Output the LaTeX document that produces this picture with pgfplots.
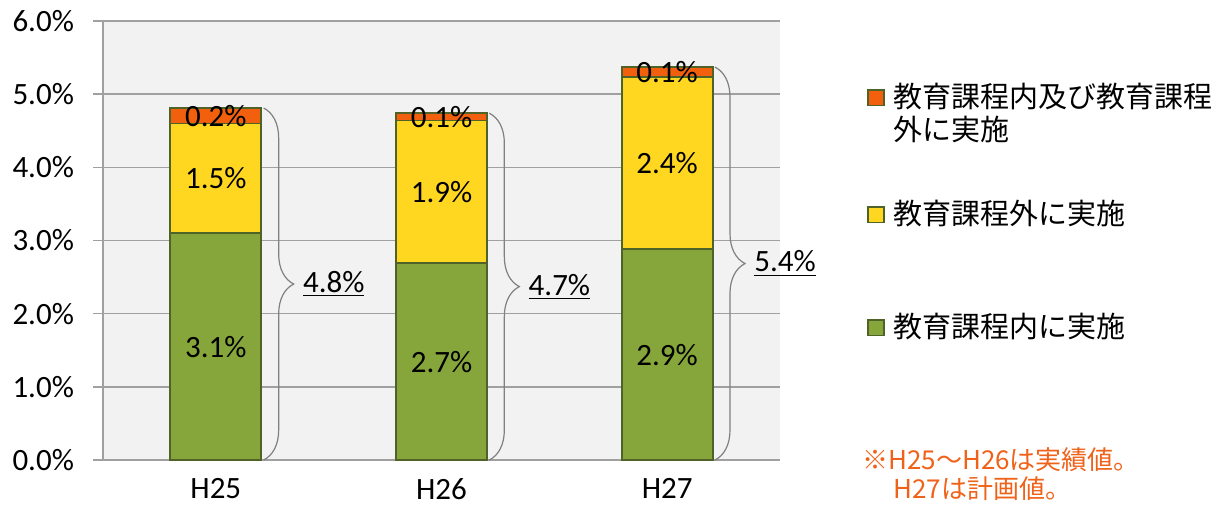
\documentclass[border=0pt]{standalone}
\usepackage{pgfplots}
\pgfplotsset{compat=1.18}
\usepackage{pgfplotstable}
\usetikzlibrary{decorations.pathreplacing}
\usepackage{fontspec}
\setmainfont{Carlito}
\newfontfamily\jp{Noto Sans CJK JP}
\definecolor{cgreen}{RGB}{134,165,58}
\definecolor{cyellow}{RGB}{255,214,32}
\definecolor{corange}{RGB}{242,96,14}
\definecolor{cborder}{RGB}{79,98,40}
\definecolor{cbg}{RGB}{242,242,242}
\definecolor{cgrid}{RGB}{160,160,160}
\definecolor{cnote}{RGB}{240,98,25}

\pgfplotstableread{
x y lbl
0 3.10 3.1
1 2.69 2.7
2 2.88 2.9
}\tgreen
\pgfplotstableread{
x y lbl
0 1.50 1.5
1 1.95 1.9
2 2.35 2.4
}\tyellow
\pgfplotstableread{
x y lbl
0 0.21 0.2
1 0.10 0.1
2 0.14 0.1
}\torange

\begin{document}
\begin{tikzpicture}
\useasboundingbox (0,0) rectangle (611.5pt,255.5pt);
\begin{axis}[
  at={(51.5pt,25.5pt)}, anchor=south west,
  scale only axis, width=338.5pt, height=219.5pt,
  ybar stacked, bar width=45.5pt,
  xmin=-0.5, xmax=2.5, ymin=0, ymax=6,
  axis background/.style={fill=cbg},
  axis lines*=left,
  axis line style={cgrid, line width=0.8pt},
  ytick={0,1,2,3,4,5,6},
  ymajorgrids, grid style={cgrid, line width=0.8pt},
  tick align=outside,
  major tick length=5pt,
  y tick style={cgrid, line width=0.8pt},
  x tick style={draw=none},
  xtick={0,1,2}, xticklabels={H25,H26,H27},
  extra x ticks={-0.5,0.5,1.5,2.5},
  extra x tick labels={},
  extra x tick style={grid=none, tick style={draw=cgrid, line width=0.8pt}, major tick length=5pt},
  /pgf/number format/assume math mode=true,
  yticklabel={\pgfmathprintnumber[fixed,fixed zerofill,precision=1]{\tick}\%},
  tick label style={font=\fontsize{15.5}{18}\selectfont, text=black},
  yticklabel style={xshift=-6pt},
  xticklabel style={yshift=-0.5pt},
  point meta=explicit,
  nodes near coords={\pgfmathprintnumber[fixed,fixed zerofill,precision=1,assume math mode=true]{\pgfplotspointmeta}\%},
  every node near coord/.append style={anchor=center, font=\fontsize{15.5}{18}\selectfont, text=black},
  reverse legend,
  legend cell align=left,
  legend entries={\rule{0pt}{13pt}教育課程内に実施, \rule{0pt}{37.5pt}, \rule{0pt}{13pt}教育課程外に実施, \rule{0pt}{23pt}, \rule{0pt}{13.5pt}外に実施, \rule{0pt}{13pt}教育課程内及び教育課程},
  legend style={draw=none, fill=none, at={(axis description cs:1.1285,0.863)}, anchor=north west,
     row sep=0pt, column sep=4.5pt, inner sep=0pt,
     nodes={inner sep=0pt, text depth=3pt, font=\jp\fontsize{14.5}{16.5}\selectfont}},
  clip=false,
]
\addplot[fill=cgreen, draw=cborder, line width=0.9pt,
  legend image code/.code={\draw[fill=cgreen, draw=cborder, line width=0.8pt] (0pt,-3.9pt) rectangle (7.8pt,3.9pt);}]
  table[x=x,y=y,meta=lbl] {\tgreen};
\addlegendimage{empty legend}
\addplot[fill=cyellow, draw=cborder, line width=0.9pt,
  legend image code/.code={\draw[fill=cyellow, draw=cborder, line width=0.8pt] (0pt,-3.9pt) rectangle (7.8pt,3.9pt);}]
  table[x=x,y=y,meta=lbl] {\tyellow};
\addlegendimage{empty legend}
\addlegendimage{empty legend}
\addplot[fill=corange, draw=cborder, line width=0.9pt,
  legend image code/.code={\draw[fill=corange, draw=cborder, line width=0.8pt] (0pt,-3.9pt) rectangle (7.8pt,3.9pt);}]
  table[x=x,y=y,meta=lbl] {\torange};

\draw[gray, line width=0.6pt, decorate, decoration={brace, amplitude=15pt}] (axis cs:0.212,4.81) -- (axis cs:0.212,0);
\draw[gray, line width=0.6pt, decorate, decoration={brace, amplitude=15pt}] (axis cs:0.212+1,4.74) -- (axis cs:0.212+1,0);
\draw[gray, line width=0.6pt, decorate, decoration={brace, amplitude=15pt}] (axis cs:0.212+2,5.37) -- (axis cs:0.212+2,0);
\node[anchor=west, inner sep=0pt, xshift=19.5pt, font=\fontsize{15.5}{18}\selectfont] at (axis cs:0.212,2.405) {\underline{4.8\%}};
\node[anchor=west, inner sep=0pt, xshift=19.5pt, font=\fontsize{15.5}{18}\selectfont] at (axis cs:1.212,2.37) {\underline{4.7\%}};
\node[anchor=west, inner sep=0pt, xshift=19.5pt, font=\fontsize{15.5}{18}\selectfont] at (axis cs:2.212,2.685) {\underline{5.4\%}};
\end{axis}
\node[anchor=base west, inner sep=0pt, text=cnote, font=\jp\fontsize{13}{15}\selectfont] at (431pt,21pt) {※H25～H26は実績値。};
\node[anchor=base west, inner sep=0pt, text=cnote, font=\jp\fontsize{13}{15}\selectfont] at (446.5pt,6.5pt) {H27は計画値。};
\end{tikzpicture}
\end{document}
